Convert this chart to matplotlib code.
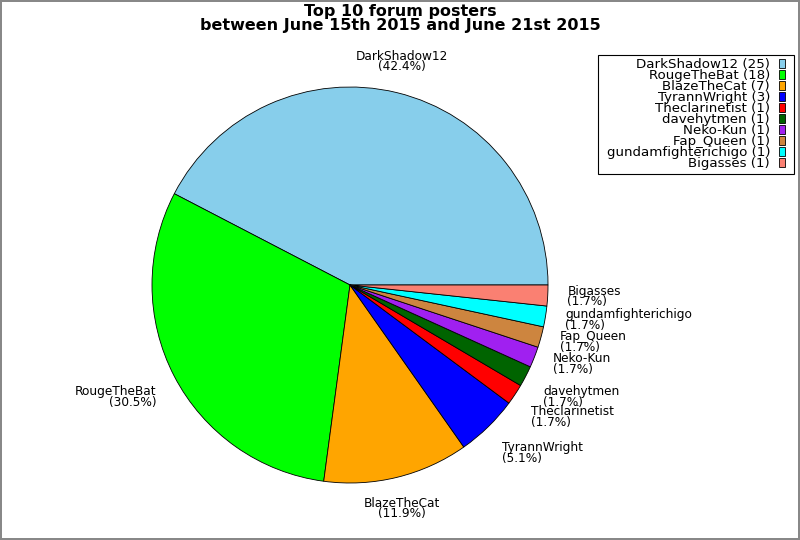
import matplotlib
matplotlib.use('Agg')
import matplotlib.pyplot as plt
from matplotlib.path import Path
import numpy as np

names = ['DarkShadow12', 'RougeTheBat', 'BlazeTheCat', 'TyrannWright', 'Theclarinetist',
         'davehytmen', 'Neko-Kun', 'Fap_Queen', 'gundamfighterichigo', 'Bigasses']
posts = [25, 18, 7, 3, 1, 1, 1, 1, 1, 1]
colors = ['#87CEEB', '#00FF00', '#FFA500', '#0000FF', '#FF0000',
          '#006400', '#A020F0', '#CD853F', '#00FFFF', '#FA8072']

total = sum(posts)
labels = [f"{n}\n({100.0 * p / total:.1f}%)" for n, p in zip(names, posts)]

fig = plt.figure(figsize=(8, 5.4), dpi=100)
fig.patch.set_edgecolor('#888888')
fig.patch.set_linewidth(1.5)

# pie centre at (350, 285) px, radius ~198 px
R = 198
ax = fig.add_axes([(350 - 250) / 800, (255 - 250) / 540, 500 / 800, 500 / 540])
wedges, texts = ax.pie(posts, labels=labels, colors=colors, startangle=0,
                       counterclock=True, labeldistance=1.1,
                       wedgeprops=dict(edgecolor='black', linewidth=0.6),
                       textprops=dict(fontsize=8.7, linespacing=0.78))
# label anchoring like the original: centred near the vertical, top/bottom away from horizontal
for t in texts:
    x, y = t.get_position()
    r = np.hypot(x, y)
    c, s = x / r, y / r
    if abs(c) < 0.3:
        t.set_ha('center')
    else:
        t.set_ha('left' if c > 0 else 'right')
    if abs(s) < 0.42:
        t.set_va('center')
    else:
        t.set_va('bottom' if s > 0 else 'top')
lim = 250 / R
ax.set_xlim(-lim, lim)
ax.set_ylim(-lim, lim)
ax.set_aspect('auto')
ax.axis('off')

fig.text(0.5, 1 - 18.5 / 540, "Top 10 forum posters\nbetween June 15th 2015 and June 21st 2015",
         ha='center', va='center', fontsize=11.5, fontweight='bold', linespacing=0.85)

leg_labels = [f"{n} ({p})" for n, p in zip(names, posts)]
leg = fig.legend(wedges, leg_labels, loc='upper right', bbox_to_anchor=(788.5 / 800, 1 - 55 / 540),
                 markerfirst=False, fontsize=9.6, labelspacing=-0.15, handlelength=0.45,
                 handleheight=0.6, handletextpad=0.68, borderpad=0.25, borderaxespad=0,
                 fancybox=False, frameon=True, framealpha=1)


def wide_box(x0, y0, width, height, mutation_size, dx=5.5):
    # legend frame with more padding left/right than top/bottom
    x0 -= dx
    x1 = x0 + width + 2 * dx
    y1 = y0 + height
    return Path([(x0, y0), (x1, y0), (x1, y1), (x0, y1), (x0, y0)], closed=True)


leg.get_frame().set_boxstyle(wide_box)
leg.get_frame().set_edgecolor('black')
leg.get_frame().set_linewidth(0.8)
for t in leg.get_texts():
    t.set_ha('right')
for h in leg.legend_handles:
    h.set_linewidth(0.6)

fig.savefig('out.png', dpi=100, edgecolor=fig.get_edgecolor())
